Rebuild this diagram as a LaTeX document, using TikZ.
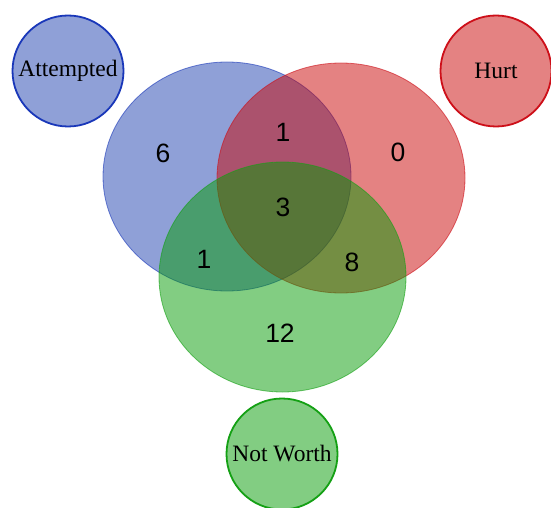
\documentclass[tikz,border=0pt]{standalone}
\usepackage{fontspec}
\setmainfont{Liberation Serif}
\newfontfamily\numfont{Liberation Sans}
\definecolor{vblue}{RGB}{31,65,175}
\definecolor{vred}{RGB}{201,5,5}
\definecolor{vgreen}{RGB}{5,155,5}
\definecolor{bblue}{RGB}{25,55,185}
\definecolor{bred}{RGB}{205,15,25}
\definecolor{bgreen}{RGB}{20,160,20}
\begin{document}
\begin{tikzpicture}[x=1pt,y=-1pt,
  setell/.style={fill opacity=0.5, draw opacity=0.6, line width=0.8pt},
  keycirc/.style={circle, minimum size=111pt, inner sep=0pt, line width=1.8pt, font=\fontsize{23.5}{26}\selectfont},
  num/.style={font=\numfont\fontsize{26.5}{30}\selectfont, text=black}]
\useasboundingbox (0,0) rectangle (551,508);
% big ellipses
\fill[vblue, setell, draw=bblue] (227,176.5) ellipse [x radius=124, y radius=114.5];
\fill[vred, setell, draw=bred] (341,178) ellipse [x radius=124, y radius=115];
\fill[vgreen, setell, draw=bgreen] (282.5,277) ellipse [x radius=123.5, y radius=115];
% key circles
\node[keycirc, draw=bblue, fill=vblue!50] (att) at (68,71) {Attempted};
\node[keycirc, draw=bred, fill=vred!50] (hurt) at (496,71) {Hurt};
\node[keycirc, draw=bgreen, fill=vgreen!50] (nw) at (282,454) {Not Worth};
% counts
\node[num] (n6) at (163,153) {6};
\node[num] (n1a) at (283,132) {1};
\node[num] (n0) at (398,152) {0};
\node[num] (n3) at (283,207) {3};
\node[num] (n1b) at (204,259) {1};
\node[num] (n8) at (352,262) {8};
\node[num] (n12) at (280,333) {12};
\end{tikzpicture}
\end{document}
